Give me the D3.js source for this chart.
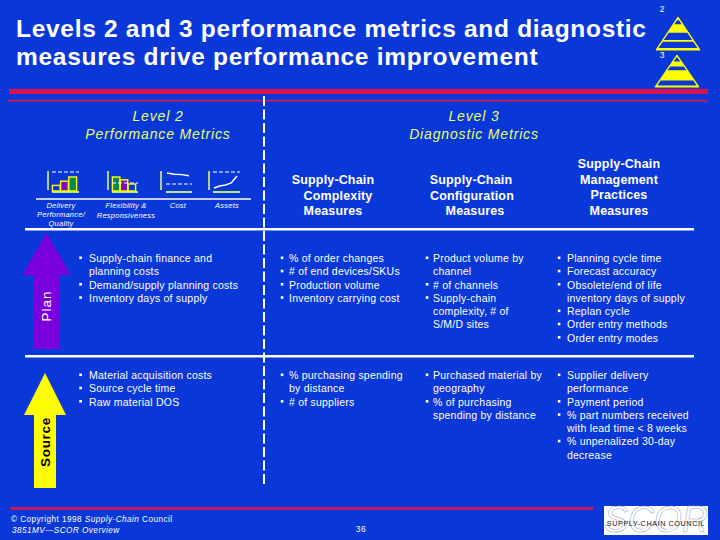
<!DOCTYPE html>
<html>
<head>
<meta charset="utf-8">
<script src="https://d3js.org/d3.v7.min.js"></script>
<style>
  html, body { margin: 0; padding: 0; background: #0a38d8; }
  svg { display: block; }
  text { font-family: 'Liberation Sans', Arial, sans-serif; }
</style>
</head>
<body>
<svg id="slide" width="720" height="540"></svg>
<script>
const titleLines = ['Levels 2 and 3 performance metrics and diagnostic', 'measures drive performance improvement'];
const level2Header = ['Level 2', 'Performance Metrics'];
const level3Header = ['Level 3', 'Diagnostic Metrics'];

const complexityHeader = ['Supply-Chain', 'Complexity', 'Measures'];
const configurationHeader = ['Supply-Chain', 'Configuration', 'Measures'];
const practicesHeader = ['Supply-Chain', 'Management', 'Practices', 'Measures'];

const iconLabels = [
  ['Delivery', 'Performance/', 'Quality'],
  ['Flexibility &', 'Responsiveness'],
  ['Cost'],
  ['Assets']
];

const deliveryBars = [4, 7, 10];
const flexibilityBars = [10, 8, 5];
const costLine = [9, 8.4, 8.2, 7.6];
const assetsLine = [1.5, 2.5, 3, 4, 7.5];

const planPerformance = [
  ['Supply-chain finance and', 'planning costs'],
  ['Demand/supply planning costs'],
  ['Inventory days of supply']
];
const planComplexity = [
  ['% of order changes'],
  ['# of end devices/SKUs'],
  ['Production volume'],
  ['Inventory carrying cost']
];
const planConfiguration = [
  ['Product volume by', 'channel'],
  ['# of channels'],
  ['Supply-chain', 'complexity, # of', 'S/M/D sites']
];
const planPractices = [
  ['Planning cycle time'],
  ['Forecast accuracy'],
  ['Obsolete/end of life', 'inventory days of supply'],
  ['Replan cycle'],
  ['Order entry methods'],
  ['Order entry modes']
];

const sourcePerformance = [
  ['Material acquisition costs'],
  ['Source cycle time'],
  ['Raw material DOS']
];
const sourceComplexity = [
  ['% purchasing spending', 'by distance'],
  ['# of suppliers']
];
const sourceConfiguration = [
  ['Purchased material by', 'geography'],
  ['% of purchasing', 'spending by distance']
];
const sourcePractices = [
  ['Supplier delivery', 'performance'],
  ['Payment period'],
  ['% part numbers received', 'with lead time < 8 weeks'],
  ['% unpenalized 30-day', 'decrease']
];

const footerLines = ['1998', '3851MV\u2014SCOR Overview'];
const pageNumber = '36';

const white = '#ffffff';
const yellow = '#ffff00';
const paleYellow = '#e4ff6a';
const blue = '#0a38d8';
const crimson = '#e0104e';
const plum = '#c2185f';

var svg = d3.select('#slide');

(function go() {
  svg.append('rect').attr('width', 720).attr('height', 540).attr('fill', blue);

  renderRules();
  renderTitle();
  renderPyramids();
  renderHeaders();
  renderIcons();
  renderArrows();
  renderBullets();
  renderFooter();
  renderLogo();
})();

function stackedText({ lines, x, y, lineHeight, anchor, size, fill, weight, italic, spacing }) {
  return svg.append('g').selectAll('text').data(lines).enter().append('text')
    .attr('x', (d, i) => (Array.isArray(x) ? x[i] : x))
    .attr('y', (d, i) => y + i * lineHeight)
    .attr('text-anchor', anchor || 'start')
    .attr('font-size', size)
    .attr('font-weight', weight || 'normal')
    .attr('font-style', italic ? 'italic' : 'normal')
    .attr('letter-spacing', spacing || 0)
    .attr('fill', fill || white)
    .text(d => d);
}

function renderRules() {
  function rule(x1, y1, x2, y2, color, width, dash) {
    svg.append('line').attr('x1', x1).attr('y1', y1).attr('x2', x2).attr('y2', y2)
      .attr('stroke', color).attr('stroke-width', width)
      .attr('stroke-dasharray', dash || null);
  }
  rule(9, 91.5, 708, 91.5, crimson, 5);
  rule(8, 100.8, 708, 100.8, plum, 2);
  rule(10, 508.5, 593, 508.5, plum, 3);
  rule(36, 199, 251, 199, white, 1.5);
  rule(25, 229.2, 694, 229.2, white, 2.6);
  rule(25, 356.2, 694, 356.2, white, 2.6);
  rule(264, 96, 264, 487, white, 2, '10 3.5');
}

function renderTitle() {
  stackedText({ lines: titleLines, x: 16, y: 37, lineHeight: 28, size: 24.5, weight: 'bold', spacing: 0.7 });
}

function renderPyramids() {
  // blue bands top to bottom, as fractions of the pyramid height
  const pyramids = [
    { label: '2', labelY: 12, apex: 17, base: 50, cx: 678, half: 22, bands: [[0.1, 0.22], [0.48, 0.7], [0.75, 0.94]] },
    { label: '3', labelY: 58, apex: 55, base: 87, cx: 677, half: 22, bands: [[0.08, 0.2], [0.36, 0.48], [0.8, 0.95]] }
  ];
  pyramids.forEach(function (p) {
    var h = p.base - p.apex;
    var widthAt = t => p.half * t;
    svg.append('path')
      .attr('d', `M${p.cx},${p.apex}L${p.cx + p.half},${p.base}L${p.cx - p.half},${p.base}Z`)
      .attr('fill', yellow).attr('stroke', yellow).attr('stroke-width', 1);
    p.bands.forEach(function (b) {
      var y0 = p.apex + b[0] * h, y1 = p.apex + b[1] * h;
      var inset = 1.2;
      svg.append('path')
        .attr('d', `M${p.cx - Math.max(widthAt(b[0]) - inset, 0.5)},${y0}L${p.cx + Math.max(widthAt(b[0]) - inset, 0.5)},${y0}` +
          `L${p.cx + widthAt(b[1]) - inset},${y1}L${p.cx - widthAt(b[1]) + inset},${y1}Z`)
        .attr('fill', blue);
    });
    svg.append('text').attr('x', 662).attr('y', p.labelY).attr('text-anchor', 'middle')
      .attr('font-size', 8.5).attr('fill', white).text(p.label);
  });
}

function renderHeaders() {
  stackedText({ lines: level2Header, x: 158, y: 120.5, lineHeight: 18.5, anchor: 'middle', size: 14, italic: true, fill: paleYellow, spacing: 0.85 });
  stackedText({ lines: level3Header, x: 474, y: 120.5, lineHeight: 18.5, anchor: 'middle', size: 14, italic: true, fill: paleYellow, spacing: 0.85 });

  stackedText({ lines: complexityHeader, x: [333, 338, 333], y: 184, lineHeight: 15.5, anchor: 'middle', size: 12.5, weight: 'bold', spacing: 0.15 });
  stackedText({ lines: configurationHeader, x: [471, 472, 475], y: 184, lineHeight: 15.5, anchor: 'middle', size: 12.5, weight: 'bold', spacing: 0.15 });
  stackedText({ lines: practicesHeader, x: 619, y: 168, lineHeight: 15.5, anchor: 'middle', size: 12.5, weight: 'bold', spacing: 0.15 });
}

function renderIcons() {
  renderBarIcon(deliveryBars, 48, 52, 79, ['#0a38d8', '#7a10b8', '#0a8a50'], false);
  renderBarIcon(flexibilityBars, 108, 112, 138, ['#0a8a50', '#7a10b8', '#0a38d8'], true);
  renderLineIcon(costLine, 161, 166, 192, true);
  renderLineIcon(assetsLine, 209, 213, 240, false);

  const labelX = [61, 126, 178, 227];
  iconLabels.forEach(function (lines, i) {
    stackedText({ lines, x: labelX[i], y: 208, lineHeight: i === 0 ? 9 : 9.5, anchor: 'middle', size: 7.5, italic: true, spacing: 0.25 });
  });
}

function iconFrame(left, x0, x1, dashedTop) {
  svg.append('line').attr('x1', left).attr('x2', left).attr('y1', 171).attr('y2', 190)
    .attr('stroke', paleYellow).attr('stroke-width', 1.5);
  svg.append('line').attr('x1', x0).attr('x2', x1).attr('y1', 192).attr('y2', 192)
    .attr('stroke', '#b8e878').attr('stroke-width', 2);
  if (dashedTop) {
    svg.append('line').attr('x1', x0).attr('x2', x1).attr('y1', 172).attr('y2', 172)
      .attr('stroke', white).attr('stroke-width', 1.2).attr('stroke-dasharray', '4 2');
  }
}

function renderBarIcon(values, left, x0, x1, fills, dashOverBars) {
  iconFrame(left, x0, x1, !dashOverBars);
  var x = d3.scaleBand().domain(d3.range(values.length)).range([x0, x1 - 2]).padding(0.05);
  var y = d3.scaleLinear().domain([0, 10]).range([191, 177]);
  svg.append('g').selectAll('rect').data(values).enter().append('rect')
    .attr('x', (d, i) => x(i))
    .attr('y', d => y(d))
    .attr('width', x.bandwidth())
    .attr('height', d => y(0) - y(d))
    .attr('fill', (d, i) => fills[i])
    .attr('stroke', yellow)
    .attr('stroke-width', 1.4);
  if (dashOverBars) {
    svg.append('line').attr('x1', x0).attr('x2', x1).attr('y1', 183).attr('y2', 183)
      .attr('stroke', white).attr('stroke-width', 1.2).attr('stroke-dasharray', '4 2');
  }
}

function renderLineIcon(values, left, x0, x1, dashBelow) {
  iconFrame(left, x0, x1, !dashBelow);
  var x = d3.scaleLinear().domain([0, values.length - 1]).range([x0 + 1, x1 - 3]);
  var y = d3.scaleLinear().domain([0, 10]).range([191, 171]);
  svg.append('path').datum(values)
    .attr('d', d3.line().x((d, i) => x(i)).y(d => y(d)))
    .attr('fill', 'none').attr('stroke', white).attr('stroke-width', 1.4);
  if (dashBelow) {
    svg.append('line').attr('x1', x0).attr('x2', x1).attr('y1', 184).attr('y2', 184)
      .attr('stroke', white).attr('stroke-width', 1.2).attr('stroke-dasharray', '4 2');
  }
}

function renderArrows() {
  function arrow(cx, tip, headY, headHalf, shaftHalf, bottom, color) {
    svg.append('path')
      .attr('d', `M${cx},${tip}L${cx + headHalf},${headY}L${cx + shaftHalf},${headY}L${cx + shaftHalf},${bottom}` +
        `L${cx - shaftHalf},${bottom}L${cx - shaftHalf},${headY}L${cx - headHalf},${headY}Z`)
      .attr('fill', color);
  }
  arrow(46.5, 233, 275, 24.5, 12.5, 349, '#7a00e0');
  arrow(45, 373, 415, 21, 11, 488, yellow);

  svg.append('text').attr('transform', 'translate(51,306) rotate(-90)')
    .attr('text-anchor', 'middle').attr('font-size', 13.5).attr('fill', white)
    .attr('letter-spacing', 1).text('Plan');
  svg.append('text').attr('transform', 'translate(50,442) rotate(-90)')
    .attr('text-anchor', 'middle').attr('font-size', 13.5).attr('font-weight', 'bold').attr('fill', '#000000')
    .attr('letter-spacing', 0.7).text('Source');
}

function renderBullets() {
  renderBulletList(planPerformance, 80.5, 89, 262);
  renderBulletList(planComplexity, 282, 289, 262);
  renderBulletList(planConfiguration, 427, 433, 262);
  renderBulletList(planPractices, 559, 567, 262);

  renderBulletList(sourcePerformance, 80.5, 89, 379);
  renderBulletList(sourceComplexity, 282, 289, 379);
  renderBulletList(sourceConfiguration, 427, 433, 379);
  renderBulletList(sourcePractices, 559, 567, 379);
}

function renderBulletList(items, bulletX, textX, startY) {
  const lineHeight = 13.25;
  var row = 0;
  items.forEach(function (lines) {
    svg.append('rect').attr('x', bulletX - 1.2).attr('y', startY + row * lineHeight - 5.5)
      .attr('width', 2.6).attr('height', 2.6).attr('fill', white);
    stackedText({ lines, x: textX, y: startY + row * lineHeight, lineHeight, size: 10.5, spacing: 0.22 });
    row += lines.length;
  });
}

function renderFooter() {
  var copy = svg.append('text').attr('x', 11).attr('y', 522).attr('font-size', 8.2).attr('fill', white).attr('letter-spacing', 0.45);
  copy.append('tspan').text('\u00a9 Copyright ' + footerLines[0] + ' ');
  copy.append('tspan').attr('font-style', 'italic').text('Supply-Chain ');
  copy.append('tspan').text('Council');
  svg.append('text').attr('x', 12).attr('y', 532.5).attr('font-size', 8.2).attr('fill', white)
    .attr('letter-spacing', 0.45).attr('font-style', 'italic').text(footerLines[1]);
  svg.append('text').attr('x', 361).attr('y', 532).attr('text-anchor', 'middle').attr('font-size', 8.5)
    .attr('fill', white).attr('letter-spacing', 0.4).text(pageNumber);
}

function renderLogo() {
  svg.append('rect').attr('x', 604).attr('y', 506).attr('width', 104).attr('height', 29).attr('fill', white);
  svg.append('text').attr('x', 656).attr('y', 532).attr('text-anchor', 'middle')
    .attr('font-family', "'Liberation Serif', serif").attr('font-style', 'italic').attr('font-size', 36)
    .attr('fill', 'none').attr('stroke', '#8f9fc0').attr('stroke-width', 0.5).text('SCOR');
  svg.append('text').attr('x', 656).attr('y', 526).attr('text-anchor', 'middle')
    .attr('font-family', "'Liberation Serif', serif").attr('font-size', 7.2).attr('letter-spacing', 0.6)
    .attr('fill', '#111111').text('SUPPLY-CHAIN COUNCIL');
}
</script>
</body>
</html>
